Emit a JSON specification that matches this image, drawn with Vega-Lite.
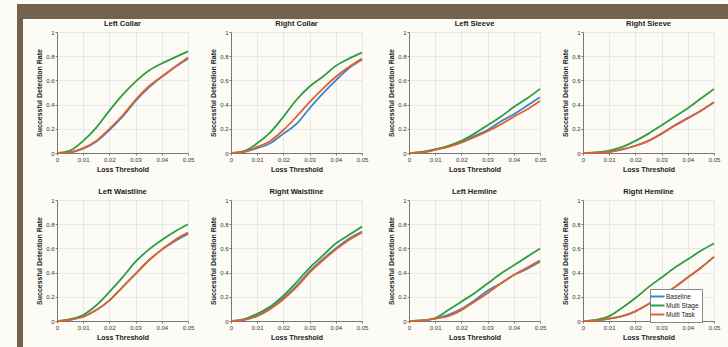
{
  "$schema": "https://vega.github.io/schema/vega-lite/v6.json",
  "background": "#fcfbf6",
  "padding": {"left": 17, "top": 4, "right": 0, "bottom": 0},
  "datasets": {
    "curves": [
      {"part":"Left Collar","method":"Baseline","t":0,"rate":0},{"part":"Left Collar","method":"Baseline","t":0.005,"rate":0.005},{"part":"Left Collar","method":"Baseline","t":0.01,"rate":0.035},{"part":"Left Collar","method":"Baseline","t":0.015,"rate":0.095},{"part":"Left Collar","method":"Baseline","t":0.02,"rate":0.19},{"part":"Left Collar","method":"Baseline","t":0.025,"rate":0.30},{"part":"Left Collar","method":"Baseline","t":0.03,"rate":0.43},{"part":"Left Collar","method":"Baseline","t":0.035,"rate":0.54},{"part":"Left Collar","method":"Baseline","t":0.04,"rate":0.63},{"part":"Left Collar","method":"Baseline","t":0.045,"rate":0.71},{"part":"Left Collar","method":"Baseline","t":0.05,"rate":0.78},
      {"part":"Left Collar","method":"Multi Stage","t":0,"rate":0},{"part":"Left Collar","method":"Multi Stage","t":0.005,"rate":0.02},{"part":"Left Collar","method":"Multi Stage","t":0.01,"rate":0.10},{"part":"Left Collar","method":"Multi Stage","t":0.015,"rate":0.21},{"part":"Left Collar","method":"Multi Stage","t":0.02,"rate":0.35},{"part":"Left Collar","method":"Multi Stage","t":0.025,"rate":0.48},{"part":"Left Collar","method":"Multi Stage","t":0.03,"rate":0.59},{"part":"Left Collar","method":"Multi Stage","t":0.035,"rate":0.68},{"part":"Left Collar","method":"Multi Stage","t":0.04,"rate":0.74},{"part":"Left Collar","method":"Multi Stage","t":0.045,"rate":0.79},{"part":"Left Collar","method":"Multi Stage","t":0.05,"rate":0.84},
      {"part":"Left Collar","method":"Multi Task","t":0,"rate":0},{"part":"Left Collar","method":"Multi Task","t":0.005,"rate":0.006},{"part":"Left Collar","method":"Multi Task","t":0.01,"rate":0.04},{"part":"Left Collar","method":"Multi Task","t":0.015,"rate":0.10},{"part":"Left Collar","method":"Multi Task","t":0.02,"rate":0.20},{"part":"Left Collar","method":"Multi Task","t":0.025,"rate":0.31},{"part":"Left Collar","method":"Multi Task","t":0.03,"rate":0.44},{"part":"Left Collar","method":"Multi Task","t":0.035,"rate":0.55},{"part":"Left Collar","method":"Multi Task","t":0.04,"rate":0.63},{"part":"Left Collar","method":"Multi Task","t":0.045,"rate":0.71},{"part":"Left Collar","method":"Multi Task","t":0.05,"rate":0.79},

      {"part":"Right Collar","method":"Baseline","t":0,"rate":0},{"part":"Right Collar","method":"Baseline","t":0.005,"rate":0.01},{"part":"Right Collar","method":"Baseline","t":0.01,"rate":0.04},{"part":"Right Collar","method":"Baseline","t":0.015,"rate":0.08},{"part":"Right Collar","method":"Baseline","t":0.02,"rate":0.16},{"part":"Right Collar","method":"Baseline","t":0.025,"rate":0.24},{"part":"Right Collar","method":"Baseline","t":0.03,"rate":0.37},{"part":"Right Collar","method":"Baseline","t":0.035,"rate":0.49},{"part":"Right Collar","method":"Baseline","t":0.04,"rate":0.60},{"part":"Right Collar","method":"Baseline","t":0.045,"rate":0.70},{"part":"Right Collar","method":"Baseline","t":0.05,"rate":0.77},
      {"part":"Right Collar","method":"Multi Stage","t":0,"rate":0},{"part":"Right Collar","method":"Multi Stage","t":0.005,"rate":0.015},{"part":"Right Collar","method":"Multi Stage","t":0.01,"rate":0.08},{"part":"Right Collar","method":"Multi Stage","t":0.015,"rate":0.17},{"part":"Right Collar","method":"Multi Stage","t":0.02,"rate":0.30},{"part":"Right Collar","method":"Multi Stage","t":0.025,"rate":0.44},{"part":"Right Collar","method":"Multi Stage","t":0.03,"rate":0.55},{"part":"Right Collar","method":"Multi Stage","t":0.035,"rate":0.63},{"part":"Right Collar","method":"Multi Stage","t":0.04,"rate":0.72},{"part":"Right Collar","method":"Multi Stage","t":0.045,"rate":0.78},{"part":"Right Collar","method":"Multi Stage","t":0.05,"rate":0.83},
      {"part":"Right Collar","method":"Multi Task","t":0,"rate":0},{"part":"Right Collar","method":"Multi Task","t":0.005,"rate":0.01},{"part":"Right Collar","method":"Multi Task","t":0.01,"rate":0.05},{"part":"Right Collar","method":"Multi Task","t":0.015,"rate":0.10},{"part":"Right Collar","method":"Multi Task","t":0.02,"rate":0.19},{"part":"Right Collar","method":"Multi Task","t":0.025,"rate":0.30},{"part":"Right Collar","method":"Multi Task","t":0.03,"rate":0.42},{"part":"Right Collar","method":"Multi Task","t":0.035,"rate":0.53},{"part":"Right Collar","method":"Multi Task","t":0.04,"rate":0.63},{"part":"Right Collar","method":"Multi Task","t":0.045,"rate":0.71},{"part":"Right Collar","method":"Multi Task","t":0.05,"rate":0.78},

      {"part":"Left Sleeve","method":"Baseline","t":0,"rate":0},{"part":"Left Sleeve","method":"Baseline","t":0.005,"rate":0.005},{"part":"Left Sleeve","method":"Baseline","t":0.01,"rate":0.03},{"part":"Left Sleeve","method":"Baseline","t":0.015,"rate":0.055},{"part":"Left Sleeve","method":"Baseline","t":0.02,"rate":0.09},{"part":"Left Sleeve","method":"Baseline","t":0.025,"rate":0.14},{"part":"Left Sleeve","method":"Baseline","t":0.03,"rate":0.19},{"part":"Left Sleeve","method":"Baseline","t":0.035,"rate":0.26},{"part":"Left Sleeve","method":"Baseline","t":0.04,"rate":0.32},{"part":"Left Sleeve","method":"Baseline","t":0.045,"rate":0.39},{"part":"Left Sleeve","method":"Baseline","t":0.05,"rate":0.46},
      {"part":"Left Sleeve","method":"Multi Stage","t":0,"rate":0},{"part":"Left Sleeve","method":"Multi Stage","t":0.005,"rate":0.01},{"part":"Left Sleeve","method":"Multi Stage","t":0.01,"rate":0.03},{"part":"Left Sleeve","method":"Multi Stage","t":0.015,"rate":0.06},{"part":"Left Sleeve","method":"Multi Stage","t":0.02,"rate":0.10},{"part":"Left Sleeve","method":"Multi Stage","t":0.025,"rate":0.16},{"part":"Left Sleeve","method":"Multi Stage","t":0.03,"rate":0.23},{"part":"Left Sleeve","method":"Multi Stage","t":0.035,"rate":0.30},{"part":"Left Sleeve","method":"Multi Stage","t":0.04,"rate":0.38},{"part":"Left Sleeve","method":"Multi Stage","t":0.045,"rate":0.45},{"part":"Left Sleeve","method":"Multi Stage","t":0.05,"rate":0.53},
      {"part":"Left Sleeve","method":"Multi Task","t":0,"rate":0},{"part":"Left Sleeve","method":"Multi Task","t":0.005,"rate":0.005},{"part":"Left Sleeve","method":"Multi Task","t":0.01,"rate":0.025},{"part":"Left Sleeve","method":"Multi Task","t":0.015,"rate":0.05},{"part":"Left Sleeve","method":"Multi Task","t":0.02,"rate":0.085},{"part":"Left Sleeve","method":"Multi Task","t":0.025,"rate":0.13},{"part":"Left Sleeve","method":"Multi Task","t":0.03,"rate":0.18},{"part":"Left Sleeve","method":"Multi Task","t":0.035,"rate":0.235},{"part":"Left Sleeve","method":"Multi Task","t":0.04,"rate":0.30},{"part":"Left Sleeve","method":"Multi Task","t":0.045,"rate":0.36},{"part":"Left Sleeve","method":"Multi Task","t":0.05,"rate":0.43},

      {"part":"Right Sleeve","method":"Baseline","t":0,"rate":0},{"part":"Right Sleeve","method":"Baseline","t":0.005,"rate":0.002},{"part":"Right Sleeve","method":"Baseline","t":0.01,"rate":0.01},{"part":"Right Sleeve","method":"Baseline","t":0.015,"rate":0.03},{"part":"Right Sleeve","method":"Baseline","t":0.02,"rate":0.06},{"part":"Right Sleeve","method":"Baseline","t":0.025,"rate":0.10},{"part":"Right Sleeve","method":"Baseline","t":0.03,"rate":0.16},{"part":"Right Sleeve","method":"Baseline","t":0.035,"rate":0.23},{"part":"Right Sleeve","method":"Baseline","t":0.04,"rate":0.29},{"part":"Right Sleeve","method":"Baseline","t":0.045,"rate":0.35},{"part":"Right Sleeve","method":"Baseline","t":0.05,"rate":0.42},
      {"part":"Right Sleeve","method":"Multi Stage","t":0,"rate":0},{"part":"Right Sleeve","method":"Multi Stage","t":0.005,"rate":0.005},{"part":"Right Sleeve","method":"Multi Stage","t":0.01,"rate":0.02},{"part":"Right Sleeve","method":"Multi Stage","t":0.015,"rate":0.05},{"part":"Right Sleeve","method":"Multi Stage","t":0.02,"rate":0.10},{"part":"Right Sleeve","method":"Multi Stage","t":0.025,"rate":0.16},{"part":"Right Sleeve","method":"Multi Stage","t":0.03,"rate":0.23},{"part":"Right Sleeve","method":"Multi Stage","t":0.035,"rate":0.30},{"part":"Right Sleeve","method":"Multi Stage","t":0.04,"rate":0.37},{"part":"Right Sleeve","method":"Multi Stage","t":0.045,"rate":0.45},{"part":"Right Sleeve","method":"Multi Stage","t":0.05,"rate":0.53},
      {"part":"Right Sleeve","method":"Multi Task","t":0,"rate":0},{"part":"Right Sleeve","method":"Multi Task","t":0.005,"rate":0.002},{"part":"Right Sleeve","method":"Multi Task","t":0.01,"rate":0.01},{"part":"Right Sleeve","method":"Multi Task","t":0.015,"rate":0.03},{"part":"Right Sleeve","method":"Multi Task","t":0.02,"rate":0.06},{"part":"Right Sleeve","method":"Multi Task","t":0.025,"rate":0.10},{"part":"Right Sleeve","method":"Multi Task","t":0.03,"rate":0.16},{"part":"Right Sleeve","method":"Multi Task","t":0.035,"rate":0.225},{"part":"Right Sleeve","method":"Multi Task","t":0.04,"rate":0.285},{"part":"Right Sleeve","method":"Multi Task","t":0.045,"rate":0.35},{"part":"Right Sleeve","method":"Multi Task","t":0.05,"rate":0.42},

      {"part":"Left Waistline","method":"Baseline","t":0,"rate":0},{"part":"Left Waistline","method":"Baseline","t":0.005,"rate":0.01},{"part":"Left Waistline","method":"Baseline","t":0.01,"rate":0.035},{"part":"Left Waistline","method":"Baseline","t":0.015,"rate":0.09},{"part":"Left Waistline","method":"Baseline","t":0.02,"rate":0.17},{"part":"Left Waistline","method":"Baseline","t":0.025,"rate":0.28},{"part":"Left Waistline","method":"Baseline","t":0.03,"rate":0.39},{"part":"Left Waistline","method":"Baseline","t":0.035,"rate":0.50},{"part":"Left Waistline","method":"Baseline","t":0.04,"rate":0.59},{"part":"Left Waistline","method":"Baseline","t":0.045,"rate":0.66},{"part":"Left Waistline","method":"Baseline","t":0.05,"rate":0.72},
      {"part":"Left Waistline","method":"Multi Stage","t":0,"rate":0},{"part":"Left Waistline","method":"Multi Stage","t":0.005,"rate":0.015},{"part":"Left Waistline","method":"Multi Stage","t":0.01,"rate":0.05},{"part":"Left Waistline","method":"Multi Stage","t":0.015,"rate":0.13},{"part":"Left Waistline","method":"Multi Stage","t":0.02,"rate":0.24},{"part":"Left Waistline","method":"Multi Stage","t":0.025,"rate":0.36},{"part":"Left Waistline","method":"Multi Stage","t":0.03,"rate":0.49},{"part":"Left Waistline","method":"Multi Stage","t":0.035,"rate":0.59},{"part":"Left Waistline","method":"Multi Stage","t":0.04,"rate":0.67},{"part":"Left Waistline","method":"Multi Stage","t":0.045,"rate":0.74},{"part":"Left Waistline","method":"Multi Stage","t":0.05,"rate":0.80},
      {"part":"Left Waistline","method":"Multi Task","t":0,"rate":0},{"part":"Left Waistline","method":"Multi Task","t":0.005,"rate":0.01},{"part":"Left Waistline","method":"Multi Task","t":0.01,"rate":0.035},{"part":"Left Waistline","method":"Multi Task","t":0.015,"rate":0.09},{"part":"Left Waistline","method":"Multi Task","t":0.02,"rate":0.17},{"part":"Left Waistline","method":"Multi Task","t":0.025,"rate":0.28},{"part":"Left Waistline","method":"Multi Task","t":0.03,"rate":0.39},{"part":"Left Waistline","method":"Multi Task","t":0.035,"rate":0.50},{"part":"Left Waistline","method":"Multi Task","t":0.04,"rate":0.59},{"part":"Left Waistline","method":"Multi Task","t":0.045,"rate":0.67},{"part":"Left Waistline","method":"Multi Task","t":0.05,"rate":0.73},

      {"part":"Right Waistline","method":"Baseline","t":0,"rate":0},{"part":"Right Waistline","method":"Baseline","t":0.005,"rate":0.01},{"part":"Right Waistline","method":"Baseline","t":0.01,"rate":0.045},{"part":"Right Waistline","method":"Baseline","t":0.015,"rate":0.105},{"part":"Right Waistline","method":"Baseline","t":0.02,"rate":0.19},{"part":"Right Waistline","method":"Baseline","t":0.025,"rate":0.29},{"part":"Right Waistline","method":"Baseline","t":0.03,"rate":0.41},{"part":"Right Waistline","method":"Baseline","t":0.035,"rate":0.51},{"part":"Right Waistline","method":"Baseline","t":0.04,"rate":0.60},{"part":"Right Waistline","method":"Baseline","t":0.045,"rate":0.68},{"part":"Right Waistline","method":"Baseline","t":0.05,"rate":0.74},
      {"part":"Right Waistline","method":"Multi Stage","t":0,"rate":0},{"part":"Right Waistline","method":"Multi Stage","t":0.005,"rate":0.015},{"part":"Right Waistline","method":"Multi Stage","t":0.01,"rate":0.06},{"part":"Right Waistline","method":"Multi Stage","t":0.015,"rate":0.12},{"part":"Right Waistline","method":"Multi Stage","t":0.02,"rate":0.21},{"part":"Right Waistline","method":"Multi Stage","t":0.025,"rate":0.32},{"part":"Right Waistline","method":"Multi Stage","t":0.03,"rate":0.44},{"part":"Right Waistline","method":"Multi Stage","t":0.035,"rate":0.54},{"part":"Right Waistline","method":"Multi Stage","t":0.04,"rate":0.64},{"part":"Right Waistline","method":"Multi Stage","t":0.045,"rate":0.71},{"part":"Right Waistline","method":"Multi Stage","t":0.05,"rate":0.78},
      {"part":"Right Waistline","method":"Multi Task","t":0,"rate":0},{"part":"Right Waistline","method":"Multi Task","t":0.005,"rate":0.01},{"part":"Right Waistline","method":"Multi Task","t":0.01,"rate":0.04},{"part":"Right Waistline","method":"Multi Task","t":0.015,"rate":0.10},{"part":"Right Waistline","method":"Multi Task","t":0.02,"rate":0.18},{"part":"Right Waistline","method":"Multi Task","t":0.025,"rate":0.28},{"part":"Right Waistline","method":"Multi Task","t":0.03,"rate":0.40},{"part":"Right Waistline","method":"Multi Task","t":0.035,"rate":0.50},{"part":"Right Waistline","method":"Multi Task","t":0.04,"rate":0.59},{"part":"Right Waistline","method":"Multi Task","t":0.045,"rate":0.67},{"part":"Right Waistline","method":"Multi Task","t":0.05,"rate":0.73},

      {"part":"Left Hemline","method":"Baseline","t":0,"rate":0},{"part":"Left Hemline","method":"Baseline","t":0.005,"rate":0.005},{"part":"Left Hemline","method":"Baseline","t":0.01,"rate":0.02},{"part":"Left Hemline","method":"Baseline","t":0.015,"rate":0.05},{"part":"Left Hemline","method":"Baseline","t":0.02,"rate":0.10},{"part":"Left Hemline","method":"Baseline","t":0.025,"rate":0.17},{"part":"Left Hemline","method":"Baseline","t":0.03,"rate":0.25},{"part":"Left Hemline","method":"Baseline","t":0.035,"rate":0.31},{"part":"Left Hemline","method":"Baseline","t":0.04,"rate":0.38},{"part":"Left Hemline","method":"Baseline","t":0.045,"rate":0.43},{"part":"Left Hemline","method":"Baseline","t":0.05,"rate":0.49},
      {"part":"Left Hemline","method":"Multi Stage","t":0,"rate":0},{"part":"Left Hemline","method":"Multi Stage","t":0.005,"rate":0.005},{"part":"Left Hemline","method":"Multi Stage","t":0.01,"rate":0.025},{"part":"Left Hemline","method":"Multi Stage","t":0.015,"rate":0.09},{"part":"Left Hemline","method":"Multi Stage","t":0.02,"rate":0.16},{"part":"Left Hemline","method":"Multi Stage","t":0.025,"rate":0.23},{"part":"Left Hemline","method":"Multi Stage","t":0.03,"rate":0.31},{"part":"Left Hemline","method":"Multi Stage","t":0.035,"rate":0.39},{"part":"Left Hemline","method":"Multi Stage","t":0.04,"rate":0.46},{"part":"Left Hemline","method":"Multi Stage","t":0.045,"rate":0.53},{"part":"Left Hemline","method":"Multi Stage","t":0.05,"rate":0.60},
      {"part":"Left Hemline","method":"Multi Task","t":0,"rate":0},{"part":"Left Hemline","method":"Multi Task","t":0.005,"rate":0.005},{"part":"Left Hemline","method":"Multi Task","t":0.01,"rate":0.02},{"part":"Left Hemline","method":"Multi Task","t":0.015,"rate":0.04},{"part":"Left Hemline","method":"Multi Task","t":0.02,"rate":0.09},{"part":"Left Hemline","method":"Multi Task","t":0.025,"rate":0.16},{"part":"Left Hemline","method":"Multi Task","t":0.03,"rate":0.23},{"part":"Left Hemline","method":"Multi Task","t":0.035,"rate":0.31},{"part":"Left Hemline","method":"Multi Task","t":0.04,"rate":0.38},{"part":"Left Hemline","method":"Multi Task","t":0.045,"rate":0.44},{"part":"Left Hemline","method":"Multi Task","t":0.05,"rate":0.50},

      {"part":"Right Hemline","method":"Baseline","t":0,"rate":0},{"part":"Right Hemline","method":"Baseline","t":0.005,"rate":0.005},{"part":"Right Hemline","method":"Baseline","t":0.01,"rate":0.02},{"part":"Right Hemline","method":"Baseline","t":0.015,"rate":0.04},{"part":"Right Hemline","method":"Baseline","t":0.02,"rate":0.08},{"part":"Right Hemline","method":"Baseline","t":0.025,"rate":0.14},{"part":"Right Hemline","method":"Baseline","t":0.03,"rate":0.21},{"part":"Right Hemline","method":"Baseline","t":0.035,"rate":0.28},{"part":"Right Hemline","method":"Baseline","t":0.04,"rate":0.36},{"part":"Right Hemline","method":"Baseline","t":0.045,"rate":0.44},{"part":"Right Hemline","method":"Baseline","t":0.05,"rate":0.53},
      {"part":"Right Hemline","method":"Multi Stage","t":0,"rate":0},{"part":"Right Hemline","method":"Multi Stage","t":0.005,"rate":0.01},{"part":"Right Hemline","method":"Multi Stage","t":0.01,"rate":0.04},{"part":"Right Hemline","method":"Multi Stage","t":0.015,"rate":0.11},{"part":"Right Hemline","method":"Multi Stage","t":0.02,"rate":0.19},{"part":"Right Hemline","method":"Multi Stage","t":0.025,"rate":0.28},{"part":"Right Hemline","method":"Multi Stage","t":0.03,"rate":0.36},{"part":"Right Hemline","method":"Multi Stage","t":0.035,"rate":0.44},{"part":"Right Hemline","method":"Multi Stage","t":0.04,"rate":0.51},{"part":"Right Hemline","method":"Multi Stage","t":0.045,"rate":0.58},{"part":"Right Hemline","method":"Multi Stage","t":0.05,"rate":0.64},
      {"part":"Right Hemline","method":"Multi Task","t":0,"rate":0},{"part":"Right Hemline","method":"Multi Task","t":0.005,"rate":0.005},{"part":"Right Hemline","method":"Multi Task","t":0.01,"rate":0.02},{"part":"Right Hemline","method":"Multi Task","t":0.015,"rate":0.04},{"part":"Right Hemline","method":"Multi Task","t":0.02,"rate":0.08},{"part":"Right Hemline","method":"Multi Task","t":0.025,"rate":0.14},{"part":"Right Hemline","method":"Multi Task","t":0.03,"rate":0.21},{"part":"Right Hemline","method":"Multi Task","t":0.035,"rate":0.28},{"part":"Right Hemline","method":"Multi Task","t":0.04,"rate":0.36},{"part":"Right Hemline","method":"Multi Task","t":0.045,"rate":0.44},{"part":"Right Hemline","method":"Multi Task","t":0.05,"rate":0.53}
    ]
  },
  "spacing": 0,
  "hconcat": [
    {
      "width": 6, "height": 343,
      "data": {"values": []},
      "mark": "rule",
      "encoding": {},
      "view": {"fill": "#74614e", "stroke": null}
    },
    {
      "spacing": 0,
      "vconcat": [
        {
          "width": 705, "height": 15,
          "data": {"values": []},
          "mark": "rule",
          "encoding": {},
          "view": {"fill": "#74614e", "stroke": null}
        },
        {
          "spacing": 7,
          "hconcat": [
            {
              "width": 5, "height": 1,
              "data": {"values": []},
              "mark": "rule",
              "encoding": {},
              "view": {"stroke": null}
            },
            {
              "spacing": 18,
              "hconcat": [
                {
                  "data": {"name": "curves"},
                  "transform": [{"filter": {"field": "part", "oneOf": ["Left Collar", "Right Collar", "Left Waistline", "Right Waistline"]}}],
                  "facet": {"field": "part", "type": "nominal", "sort": ["Left Collar", "Right Collar", "Left Waistline", "Right Waistline"], "header": {"title": null}},
                  "columns": 2,
                  "spacing": {"column": 14, "row": 14},
                  "spec": {
                    "width": 131, "height": 121,
                    "mark": {"type": "line", "strokeWidth": 1.8, "interpolate": "monotone"},
                    "encoding": {
                      "x": {"field": "t", "type": "quantitative", "scale": {"domain": [0, 0.05], "nice": false}, "axis": {"values": [0, 0.01, 0.02, 0.03, 0.04, 0.05], "format": "~g", "title": "Loss Threshold", "labelFlush": false}},
                      "y": {"field": "rate", "type": "quantitative", "scale": {"domain": [0, 1], "nice": false}, "axis": {"values": [0, 0.2, 0.4, 0.6, 0.8, 1], "format": "~g", "title": "Successful Detection Rate"}},
                      "color": {"field": "method", "type": "nominal", "scale": {"domain": ["Baseline", "Multi Stage", "Multi Task"], "range": ["#3b86c8", "#2e9d3f", "#e2602e"]}}
                    }
                  },
                  "resolve": {"axis": {"x": "independent", "y": "independent"}}
                },
                {
                  "data": {"name": "curves"},
                  "transform": [{"filter": {"field": "part", "oneOf": ["Left Sleeve", "Right Sleeve", "Left Hemline", "Right Hemline"]}}],
                  "facet": {"field": "part", "type": "nominal", "sort": ["Left Sleeve", "Right Sleeve", "Left Hemline", "Right Hemline"], "header": {"title": null}},
                  "columns": 2,
                  "spacing": {"column": 14, "row": 14},
                  "spec": {
                    "width": 131, "height": 121,
                    "mark": {"type": "line", "strokeWidth": 1.8, "interpolate": "monotone"},
                    "encoding": {
                      "x": {"field": "t", "type": "quantitative", "scale": {"domain": [0, 0.05], "nice": false}, "axis": {"values": [0, 0.01, 0.02, 0.03, 0.04, 0.05], "format": "~g", "title": "Loss Threshold", "labelFlush": false}},
                      "y": {"field": "rate", "type": "quantitative", "scale": {"domain": [0, 1], "nice": false}, "axis": {"values": [0, 0.2, 0.4, 0.6, 0.8, 1], "format": "~g", "title": "Successful Detection Rate"}},
                      "color": {"field": "method", "type": "nominal", "scale": {"domain": ["Baseline", "Multi Stage", "Multi Task"], "range": ["#3b86c8", "#2e9d3f", "#e2602e"]}, "legend": {"orient": "none", "legendX": 633, "legendY": 285, "title": null}}
                    }
                  },
                  "resolve": {"axis": {"x": "independent", "y": "independent"}}
                }
              ]
            }
          ]
        }
      ]
    }
  ],
  "config": {
    "font": "Liberation Sans",
    "view": {"stroke": "#e2e2e2"},
    "axis": {
      "labelFontSize": 6, "titleFontSize": 7, "titleFontWeight": "bold",
      "labelColor": "#333333", "titleColor": "#222222",
      "domainColor": "#777777", "tickColor": "#777777", "tickSize": 2,
      "labelPadding": 1, "titlePadding": 3, "gridColor": "#e8e8e8"
    },
    "header": {"labelFontSize": 7.5, "labelFontWeight": "bold", "labelPadding": 2, "labelColor": "#222222"},
    "legend": {
      "labelFontSize": 6.5, "symbolType": "M-2,0H2", "symbolStrokeWidth": 2, "symbolSize": 49,
      "strokeColor": "#888888", "fillColor": "#ffffff", "padding": 3, "rowPadding": 0, "labelOffset": 4, "labelColor": "#222222"
    }
  }
}
